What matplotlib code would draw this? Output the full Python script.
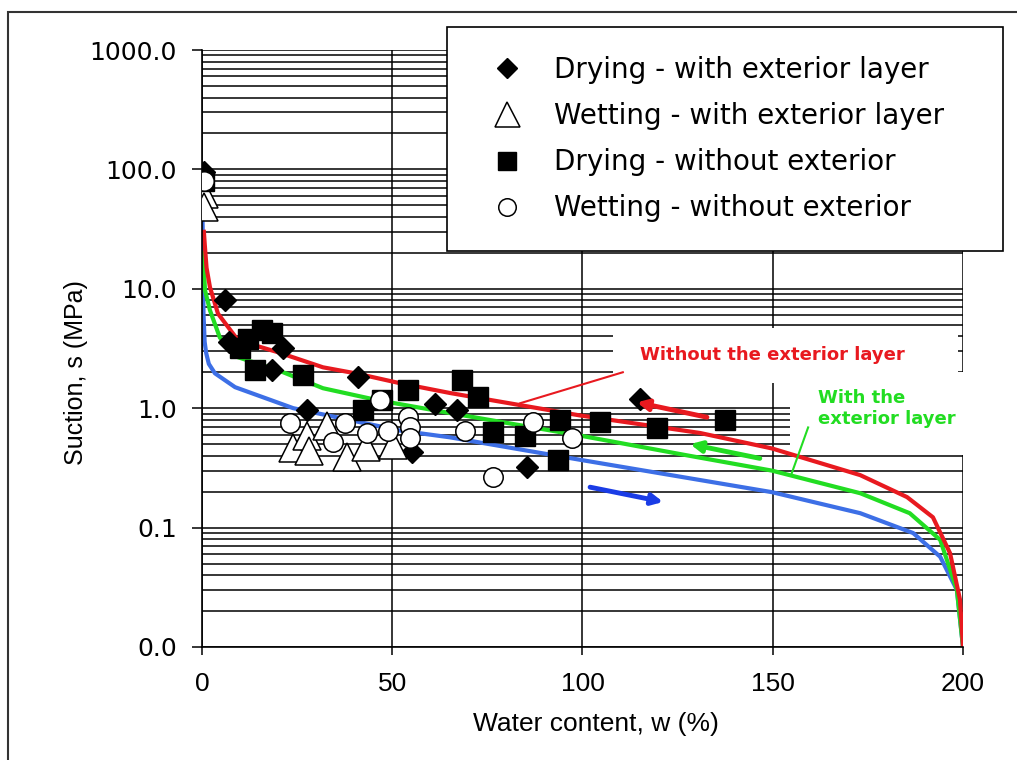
import numpy as np
import matplotlib.pyplot as plt
from matplotlib.patches import Rectangle
from matplotlib.ticker import LogLocator, FormatStrFormatter, NullFormatter

# measured points (water content %, suction MPa)
dry_ext_w = [0.5, 6.0, 7.0, 18.4, 21.3, 27.6, 41.0, 55.2, 61.2, 67.0, 85.4, 115.0]
dry_ext_s = [95, 8.0, 3.6, 2.1, 3.2, 0.96, 1.82, 0.43, 1.08, 0.96, 0.32, 1.2]

wet_ext_w = [0.5, 0.5, 24.0, 27.6, 28.0, 32.9, 38.1, 43.0, 50.2]
wet_ext_s = [62, 48, 0.46, 0.58, 0.44, 0.71, 0.39, 0.47, 0.49]

dry_noext_w = [0.5, 10.0, 12.0, 14.0, 15.8, 18.4, 26.5, 42.3, 47.3, 54.1, 68.3,
               72.5, 76.5, 84.9, 93.6, 94.1, 104.6, 119.6, 137.5]
dry_noext_s = [80, 3.2, 3.8, 2.1, 4.5, 4.3, 1.9, 0.96, 1.17, 1.41, 1.72,
               1.24, 0.63, 0.59, 0.37, 0.80, 0.76, 0.68, 0.79]

wet_noext_w = [0.5, 23.1, 34.4, 37.6, 43.4, 46.8, 48.9, 54.1, 54.7, 54.7, 69.1,
               76.5, 87.0, 97.2]
wet_noext_s = [80, 0.75, 0.52, 0.75, 0.62, 1.17, 0.65, 0.84, 0.69, 0.56, 0.65,
               0.265, 0.76, 0.56]

# fitted curves
red_w = [0.5, 0.8, 1.2, 2.1, 4.2, 9.5, 20, 31.8, 40.7, 52, 65.2, 99.3, 130.9,
         149.8, 173, 185.3, 192.1, 196.6, 199.2, 200]
red_s = [30, 22, 15, 10.3, 6.2, 3.7, 2.94, 2.2, 1.95, 1.62, 1.34, 0.87, 0.62,
         0.46, 0.275, 0.18, 0.122, 0.061, 0.025, 0.01]

green_w = [0.3, 0.8, 2.1, 4.7, 9.5, 20, 31.8, 46, 65.2, 99.3, 128, 149.8, 173,
           186, 194, 198.4, 200]
green_s = [20, 9.7, 6.6, 3.9, 2.67, 2.08, 1.47, 1.17, 0.91, 0.59, 0.40, 0.30,
           0.194, 0.132, 0.079, 0.03, 0.01]

blue_w = [0.1, 0.2, 0.4, 0.7, 1.1, 1.8, 3.4, 8.7, 24, 52, 65.2, 99.3, 149.8,
          173, 186.9, 194, 198.4, 200]
blue_s = [45, 30, 6.2, 3.6, 2.9, 2.35, 1.96, 1.5, 1.0, 0.65, 0.57, 0.37, 0.198,
          0.132, 0.09, 0.057, 0.03, 0.01]

# path direction arrows (tail -> head)
arrow_tail_w = [132.7, 146.6, 102.0]
arrow_tail_s = [0.84, 0.38, 0.218]
arrow_head_w = [114.3, 128.3, 121.2]
arrow_head_s = [1.12, 0.50, 0.164]

RED = '#e8191f'
GREEN = '#22dd22'
BLUE = '#3d6fe6'
ARROW_BLUE = '#1a3ce6'
arrow_colors = [RED, GREEN, ARROW_BLUE]

fig = plt.figure(figsize=(10.17, 7.6), dpi=100)
ax = fig.add_axes([0.1986, 0.1487, 0.7483, 0.7855])

# frame round the whole picture
fig.patches.append(Rectangle((0.008, -0.1), 1.2, 1.084, transform=fig.transFigure,
                             fill=False, edgecolor='#333333', lw=1.5))

ax.set_yscale('log')
ax.set_ylim(0.01, 1000)
ax.set_xlim(0, 200)
ax.set_xticks([0, 50, 100, 150, 200])
ax.yaxis.set_major_locator(LogLocator(base=10, numticks=10))
ax.yaxis.set_minor_locator(LogLocator(base=10, subs=np.arange(2, 10), numticks=10))
ax.yaxis.set_major_formatter(FormatStrFormatter('%.1f'))
ax.yaxis.set_minor_formatter(NullFormatter())

ax.set_axisbelow(True)
ax.grid(True, which='both', axis='y', color='black', lw=1.1)
ax.grid(True, which='major', axis='x', color='black', lw=1.1)
ax.tick_params(axis='y', which='minor', length=0)
ax.tick_params(axis='y', which='major', length=7, width=1.1, pad=11, labelsize=18)
ax.tick_params(axis='x', length=6, width=1.1, pad=12, labelsize=19)
for lbl in ax.get_xticklabels():
    lbl.set_fontfamily('Liberation Sans')
for side in ['top', 'right']:
    ax.spines[side].set_visible(False)
for side in ['left', 'bottom']:
    ax.spines[side].set_linewidth(1.2)

# white label backgrounds that hide the grid
ax.add_patch(Rectangle((0.540, 0.442), 0.453, 0.092, transform=ax.transAxes,
                       facecolor='white', edgecolor='none', zorder=1, clip_on=False))
ax.add_patch(Rectangle((0.773, 0.322), 0.24, 0.138, transform=ax.transAxes,
                       facecolor='white', edgecolor='none', zorder=1, clip_on=False))

ax.plot(blue_w, blue_s, color=BLUE, lw=3, zorder=2)
ax.plot(green_w, green_s, color=GREEN, lw=3, zorder=2)
ax.plot(red_w, red_s, color=RED, lw=3, zorder=2)

ax.plot(dry_ext_w, dry_ext_s, ls='none', marker='D', ms=11.5, mfc='black', mec='black',
        label='Drying - with exterior layer', zorder=3)
ax.plot(wet_ext_w, wet_ext_s, ls='none', marker='^', ms=20, mfc='white', mec='black',
        mew=1.1, label='Wetting - with exterior layer', zorder=3.1)
ax.plot(dry_noext_w, dry_noext_s, ls='none', marker='s', ms=15, mfc='black', mec='black',
        label='Drying - without exterior', zorder=3.2)
ax.plot(wet_noext_w, wet_noext_s, ls='none', marker='o', ms=14, mfc='white', mec='black',
        mew=1.1, label='Wetting - without exterior', zorder=3.3)

for i in range(3):
    ax.annotate('', xy=(arrow_head_w[i], arrow_head_s[i]),
                xytext=(arrow_tail_w[i], arrow_tail_s[i]),
                arrowprops=dict(arrowstyle='-|>', color=arrow_colors[i], lw=3.5,
                                mutation_scale=16, shrinkA=0, shrinkB=0),
                zorder=4)

# label leader lines
ax.plot([83.6, 110.6], [1.10, 2.0], color=RED, lw=1.5, zorder=4)
ax.plot([155, 159.3], [0.286, 0.69], color=GREEN, lw=1.5, zorder=4)

ax.text(149.8, 2.78, 'Without the exterior layer', color=RED, fontsize=13,
        fontweight='bold', ha='center', va='center', zorder=5)
ax.text(161.9, 1.0, 'With the\nexterior layer', color=GREEN, fontsize=13,
        fontweight='bold', ha='left', va='center', zorder=5)

ax.set_xlabel('Water content, w (%)', fontsize=19, family='Liberation Sans')
ax.xaxis.set_label_coords(0.518, -0.109)
ax.set_ylabel('Suction, s (MPa)', fontsize=18, family='Liberation Sans')
ax.yaxis.set_label_coords(-0.150, 0.46)

leg = ax.legend(loc='upper left', bbox_to_anchor=(0.4395, 0.6, 0.5467, 0.3645),
                bbox_transform=fig.transFigure, mode='expand', borderaxespad=0,
                fontsize=20, frameon=True, fancybox=False, framealpha=1,
                edgecolor='black', markerscale=0.9, borderpad=1.05,
                labelspacing=0.65, handlelength=2.2, handletextpad=0.6)
leg.get_frame().set_linewidth(1.2)

fig.savefig('out.png', dpi=100)
